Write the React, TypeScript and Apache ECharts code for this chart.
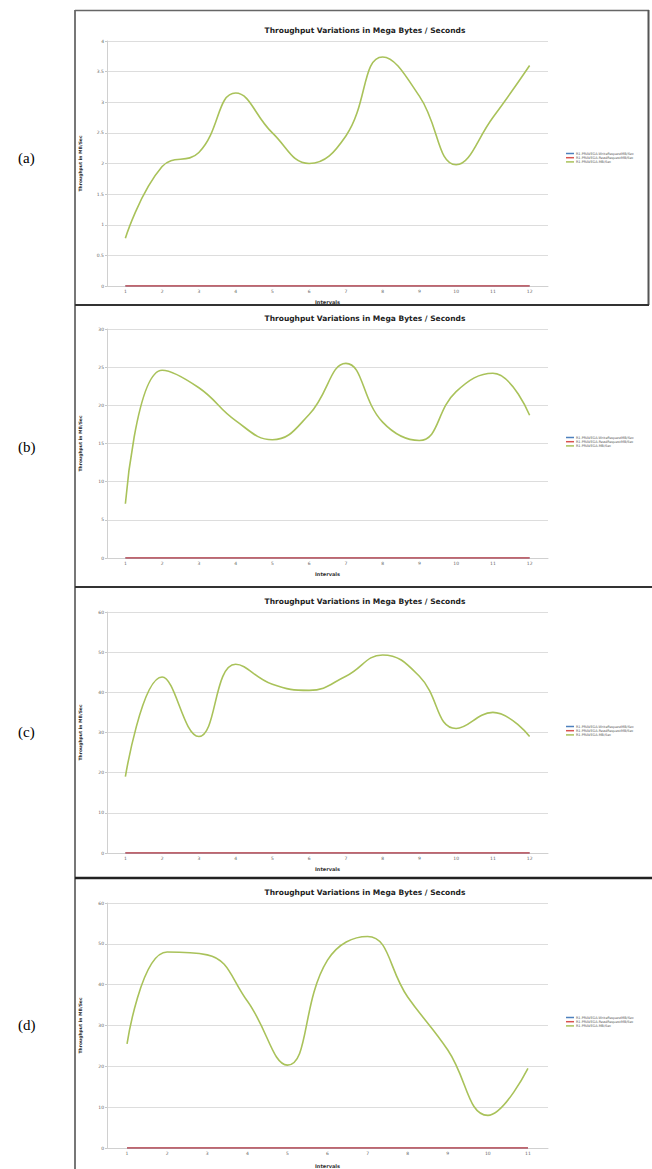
import React, { useEffect, useRef } from "react";
import * as echarts from "echarts";

const seriesNames = [
  "R1-PRAVEGA-WriteRequestMB/Sec",
  "R1-PRAVEGA-ReadRequestMB/Sec",
  "R1-PRAVEGA-MB/Sec",
];
const intervals12 = ["1", "2", "3", "4", "5", "6", "7", "8", "9", "10", "11", "12"];
const intervals11 = ["1", "2", "3", "4", "5", "6", "7", "8", "9", "10", "11"];

const panelLabels = ["(a)", "(b)", "(c)", "(d)"];
const yMaxes = [4, 30, 60, 60];
const yIntervals = [0.5, 5, 10, 10];

const mbA = [0.78, 1.95, 2.18, 3.15, 2.5, 2.0, 2.45, 3.74, 3.1, 1.98, 2.75, 3.6];
const mbB = [7.1, 24.6, 22.3, 18.0, 15.5, 18.8, 25.5, 17.8, 15.4, 21.8, 24.2, 18.7];
const mbC = [19, 43.8, 29, 47, 42, 40.5, 44, 49.3, 44, 31, 35, 29];
const mbD = [25.5, 48, 47.3, 36, 20.3, 46, 51.8, 37, 24, 8, 19.5];
const zeros12 = [0, 0, 0, 0, 0, 0, 0, 0, 0, 0, 0, 0];
const zeros11 = [0, 0, 0, 0, 0, 0, 0, 0, 0, 0, 0];

const panelCats = [intervals12, intervals12, intervals12, intervals11];
const panelMB = [mbA, mbB, mbC, mbD];
const panelZeros = [zeros12, zeros12, zeros12, zeros11];

const gridTops = [41, 329, 612, 903];
const gridBottoms = [883, 611, 316, 21];
const titleTops = [21, 309, 592, 883];
const legendTops = [152, 436, 725, 1016];
const labelTops = [158, 447, 732, 1025];
const nameGapsX = [13, 13, 13, 15];

const colors = ["#4f81bd", "#d9534f", "#a9c25a"];

export default function App() {
  const ref = useRef<HTMLDivElement>(null);
  useEffect(() => {
    if (!ref.current) return;
    const chart = echarts.init(ref.current, null, { renderer: "svg" });
    const grids: any[] = [];
    const xAxes: any[] = [];
    const yAxes: any[] = [];
    const series: any[] = [];
    const titles: any[] = [];
    const legends: any[] = [];
    const graphics: any[] = [];
    for (let i = 0; i < 4; i++) {
      grids.push({ left: 107, right: 104, top: gridTops[i], bottom: gridBottoms[i] });
      xAxes.push({
        type: "category",
        gridIndex: i,
        data: panelCats[i],
        boundaryGap: true,
        name: "Intervals",
        nameLocation: "middle",
        nameGap: nameGapsX[i],
        nameTextStyle: { fontSize: 5, fontWeight: "bold", color: "#333", fontFamily: "DejaVu Sans" },
        axisLine: { lineStyle: { color: "#d0d0d0", width: 1 } },
        axisTick: { alignWithLabel: true, length: 2, lineStyle: { color: "#c8c8c8" } },
        axisLabel: { fontSize: 4.5, color: "#666", margin: 3, fontFamily: "DejaVu Sans" },
        splitLine: { show: false },
      });
      yAxes.push({
        type: "value",
        gridIndex: i,
        min: 0,
        max: yMaxes[i],
        interval: yIntervals[i],
        name: "Throughput in MB/Sec",
        nameLocation: "middle",
        nameGap: 24,
        nameRotate: 90,
        nameTextStyle: { fontSize: 4.5, fontWeight: "bold", color: "#333", fontFamily: "DejaVu Sans" },
        axisLine: { show: true, lineStyle: { color: "#d0d0d0", width: 1 } },
        axisTick: { show: true, length: 2, lineStyle: { color: "#c8c8c8" } },
        axisLabel: { fontSize: 4.5, color: "#666", margin: 3, fontFamily: "DejaVu Sans" },
        splitLine: { show: true, lineStyle: { color: "#dddddd", width: 1 } },
      });
      series.push({
        name: seriesNames[0],
        type: "line",
        xAxisIndex: i,
        yAxisIndex: i,
        data: panelZeros[i],
        showSymbol: false,
        lineStyle: { color: colors[0], width: 1.5 },
        itemStyle: { color: colors[0] },
      });
      series.push({
        name: seriesNames[1],
        type: "line",
        xAxisIndex: i,
        yAxisIndex: i,
        data: panelZeros[i],
        showSymbol: false,
        lineStyle: { color: colors[1], width: 1.5 },
        itemStyle: { color: colors[1] },
      });
      series.push({
        name: seriesNames[2],
        type: "line",
        xAxisIndex: i,
        yAxisIndex: i,
        data: panelMB[i],
        smooth: 0.45,
        showSymbol: false,
        lineStyle: { color: colors[2], width: 1.6 },
        itemStyle: { color: colors[2] },
      });
      titles.push({
        text: "Throughput Variations in Mega Bytes / Seconds",
        left: 360,
        top: titleTops[i],
        textAlign: "center",
        textStyle: { fontSize: 7.5, fontWeight: "bold", color: "#222", fontFamily: "DejaVu Sans" },
      });
      legends.push({
        data: seriesNames,
        orient: "vertical",
        left: 566,
        top: legendTops[i],
        padding: 0,
        itemWidth: 8,
        itemHeight: 1.5,
        itemGap: 1.2,
        icon: "rect",
        textStyle: { fontSize: 3.4, color: "#555", fontFamily: "DejaVu Sans", padding: [0, 0, 0, -3] },
        selectedMode: false,
      });
      graphics.push({
        type: "text",
        left: 18,
        top: labelTops[i] - 8,
        style: { text: panelLabels[i], fontSize: 15, fill: "#000", fontFamily: "Liberation Serif" },
      });
    }
    // borders
    graphics.push({ type: "line", shape: { x1: 75, y1: 10, x2: 75, y2: 1169 }, style: { stroke: "#777", lineWidth: 2 } });
    graphics.push({ type: "line", shape: { x1: 75, y1: 10.5, x2: 649, y2: 10.5 }, style: { stroke: "#666", lineWidth: 1.5 } });
    graphics.push({ type: "line", shape: { x1: 648.5, y1: 10, x2: 648.5, y2: 305 }, style: { stroke: "#555", lineWidth: 2 } });
    graphics.push({ type: "line", shape: { x1: 75, y1: 305, x2: 649, y2: 305 }, style: { stroke: "#333", lineWidth: 2 } });
    graphics.push({ type: "line", shape: { x1: 75, y1: 587, x2: 652, y2: 587 }, style: { stroke: "#333", lineWidth: 2 } });
    graphics.push({ type: "line", shape: { x1: 75, y1: 878, x2: 652, y2: 878 }, style: { stroke: "#222", lineWidth: 2.5 } });

    chart.setOption({
      animation: false,
      backgroundColor: "#ffffff",
      title: titles,
      legend: legends,
      grid: grids,
      xAxis: xAxes,
      yAxis: yAxes,
      series,
      graphic: graphics,
    });
    return () => chart.dispose();
  }, []);
  return (
    <div
      ref={ref}
      style={{ position: "absolute", left: 0, top: 0, width: 652, height: 1169 }}
    />
  );
}
